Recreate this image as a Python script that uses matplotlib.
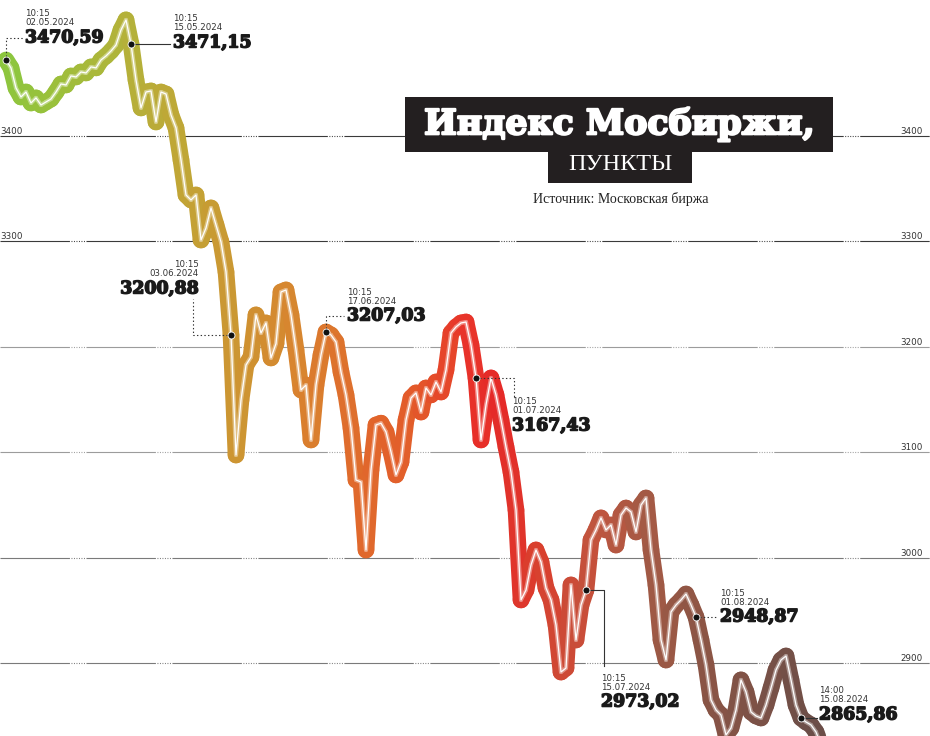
import numpy as np
import matplotlib
matplotlib.use("Agg")
import matplotlib.pyplot as plt
import matplotlib.patheffects as pe
from matplotlib.collections import LineCollection
from matplotlib.colors import LinearSegmentedColormap
from matplotlib.patches import Rectangle
from matplotlib.lines import Line2D

W, H = 930, 736

# MOEX index, one value per step
moex = [3472.1, 3464.5, 3445.5, 3437.0, 3441.7, 3431.3, 3436.1, 3429.4, 3432.3, 3435.1,
        3441.7, 3449.3, 3448.4, 3456.9, 3456.0, 3460.7, 3459.8, 3465.5, 3464.6, 3472.1,
        3475.9, 3480.6, 3486.3, 3500.6, 3510.1, 3487.3, 3453.1, 3426.6, 3441.7, 3442.7,
        3413.3, 3441.7, 3439.8, 3419.9, 3407.6, 3377.2, 3344.0, 3339.3, 3344.0, 3301.3,
        3312.7, 3331.7, 3315.6, 3299.4, 3271.0, 3211.2, 3097.3, 3149.5, 3182.7, 3190.3,
        3230.2, 3213.0, 3222.6, 3189.4, 3203.0, 3252.0, 3253.9, 3230.2, 3197.0, 3159.0,
        3163.7, 3111.6, 3163.7, 3192.2, 3214.0, 3211.2, 3204.5, 3176.1, 3154.3, 3122.9,
        3073.6, 3071.7, 3007.2, 3083.1, 3125.8, 3127.5, 3119.2, 3100.2, 3078.4, 3090.7,
        3130.5, 3151.4, 3156.2, 3138.1, 3160.9, 3154.3, 3166.6, 3157.1, 3178.0, 3213.1,
        3218.8, 3222.6, 3223.5, 3201.7, 3170.4, 3111.6, 3144.8, 3170.4, 3154.3, 3130.5,
        3104.9, 3081.2, 3045.1, 2959.8, 2969.2, 2993.0, 3007.2, 2995.8, 2971.1, 2959.8,
        2936.0, 2891.4, 2895.2, 2974.0, 2921.8, 2955.0, 2969.2, 3016.7, 3026.2, 3037.6,
        3026.2, 3030.9, 3011.9, 3040.4, 3047.0, 3043.3, 3024.3, 3049.9, 3056.5, 3007.2,
        2974.0, 2921.8, 2902.8, 2948.4, 2955.0, 2959.8, 2965.4, 2955.0, 2943.6, 2921.8,
        2898.1, 2864.9, 2855.4, 2850.6, 2831.7, 2838.3, 2855.4, 2883.9, 2872.5, 2853.5,
        2849.7, 2847.8, 2860.1, 2876.3, 2893.3, 2902.8, 2906.6, 2883.9, 2860.1, 2847.8,
        2844.0, 2841.2, 2834.5, 2822.2]

grid_levels = [3400, 3300, 3200, 3100, 3000, 2900]
left_labels = [3400, 3300]

ann_idx = [0, 25, 45, 64, 94, 116, 138, 159]
ann_time = ['10:15', '10:15', '10:15', '10:15', '10:15', '10:15', '10:15', '14:00']
ann_date = ['02.05.2024', '15.05.2024', '03.06.2024', '17.06.2024',
            '01.07.2024', '15.07.2024', '01.08.2024', '15.08.2024']
ann_value = ['3470,59', '3471,15', '3200,88', '3207,03',
             '3167,43', '2973,02', '2948,87', '2865,86']

# leader path (px from dot, y down), text anchor offset, alignment, line style
leaders = [[(0, 0), (0, -22), (17, -22)],
           [(0, 0), (39, 0)],
           [(0, 0), (-38, 0), (-38, -36)],
           [(0, 0), (0, -16), (18, -16)],
           [(0, 0), (38, 0), (38, 19)],
           [(0, 0), (18, 0), (18, 76)],
           [(0, 0), (21, 0)],
           [(0, 0), (16, 0)]]
text_off = [(19, -22), (42, -1), (-32, -46), (21, -16), (36, 48), (15, 112), (24, 0), (18, -3)]
text_ha = ['left', 'left', 'right', 'left', 'left', 'left', 'left', 'left']
leader_ls = [':', '-', ':', ':', ':', '-', ':', '-']

grad_pos = [0.0, 0.07, 0.146, 0.21, 0.28, 0.36, 0.434, 0.508, 0.57, 0.605, 0.655, 0.73, 0.79, 0.85, 1.0]
grad_col = ['#8cc63e', '#9dbf3b', '#b3b23a', '#bfa736', '#cc9632', '#d8842f', '#e06a2c',
            '#e35a2a', '#e8332a', '#e52a28', '#d9402e', '#c0553f', '#a35a45', '#8d5545', '#6b4e48']

plt.rcParams['lines.scale_dashes'] = False

fig = plt.figure(figsize=(W / 100, H / 100), dpi=100)
ax = fig.add_axes([0, 0, 1, 1])
ax.set_xlim(-1.2, 184.8)
ax.set_ylim(2830.7, 3529.0)
ax.axis('off')

# gridlines: long solid dash followed by a run of dots
grid_dash = [50] + [1.1, 0.7] * 6 + [1.1]
grid_colors = ['#3a3a3a', '#3a3a3a', '#9c9c9c', '#9c9c9c', '#7a7a7a', '#7a7a7a']
for lvl, c in zip(grid_levels, grid_colors):
    ax.axhline(lvl, color=c, lw=0.8, dashes=grid_dash, zorder=1)
    ax.text(0.992, lvl, str(lvl), transform=ax.get_yaxis_transform(), ha='right', va='bottom',
            fontsize=6.3, color='#333333', family='DejaVu Sans', zorder=1)
    if lvl in left_labels:
        ax.text(0.0, lvl, str(lvl), transform=ax.get_yaxis_transform(), ha='left', va='bottom',
                fontsize=6.3, color='#333333', family='DejaVu Sans', zorder=1)

# gradient line
x = np.arange(len(moex))
y = np.array(moex)
pts = np.column_stack([x, y])
segs = np.stack([pts[:-1], pts[1:]], axis=1)
cmap = LinearSegmentedColormap.from_list('moex', list(zip(grad_pos, grad_col)))
t = (x[:-1] + 0.5) / (len(moex) - 1)
cols = np.array([cmap(v) for v in t])
tint = cols.copy()
tint[:, :3] = cols[:, :3] * 0.6 + 0.4

ax.add_collection(LineCollection(segs, colors=cols, linewidths=12, capstyle='round',
                                 joinstyle='round', zorder=3))
ax.add_collection(LineCollection(segs, colors=tint, linewidths=3, capstyle='round',
                                 joinstyle='round', zorder=4))
ax.plot(x, y, color='white', lw=0.9, zorder=5, solid_joinstyle='round')


def to_fig(i, v):
    d = ax.transData.transform((i, v))
    return fig.transFigure.inverted().transform(d)


for k, i in enumerate(ann_idx):
    fx, fy = to_fig(i, moex[i])
    px = [fx + dx / W for dx, dy in leaders[k]]
    py = [fy - dy / H for dx, dy in leaders[k]]
    fig.add_artist(Line2D(px, py, color='#333333', lw=0.8, ls=leader_ls[k],
                          transform=fig.transFigure, zorder=6))
    fig.add_artist(Line2D([fx], [fy], marker='o', ms=5, color='#111111',
                          mec='white', mew=0.6, transform=fig.transFigure, zorder=7))
    tx = fx + text_off[k][0] / W
    ty = fy - text_off[k][1] / H
    fig.text(tx, ty, ann_value[k], ha=text_ha[k], va='center', fontsize=12.5,
             family='DejaVu Serif', weight='bold', color='#1a1a1a', zorder=8,
             path_effects=[pe.withStroke(linewidth=1.1, foreground='#1a1a1a')])
    fig.text(tx, ty + 15 / H, ann_date[k], ha=text_ha[k], va='center', fontsize=6.2,
             family='DejaVu Sans', color='#333333', zorder=8)
    fig.text(tx, ty + 24 / H, ann_time[k], ha=text_ha[k], va='center', fontsize=6.2,
             family='DejaVu Sans', color='#333333', zorder=8)

# title block
fig.add_artist(Rectangle((405 / W, 1 - 152 / H), 428 / W, 55 / H, transform=fig.transFigure,
                         facecolor='#231f20', edgecolor='none', zorder=9))
fig.add_artist(Rectangle((548 / W, 1 - 183 / H), 144 / W, 32 / H, transform=fig.transFigure,
                         facecolor='#231f20', edgecolor='none', zorder=9))
fig.text(619 / W, 1 - 124 / H, 'Индекс Мосбиржи,', ha='center', va='center', fontsize=25,
         family='DejaVu Serif', weight='bold', color='white', zorder=10,
         path_effects=[pe.withStroke(linewidth=1.6, foreground='white')])
fig.text(620 / W, 1 - 165 / H, 'ПУНКТЫ', ha='center', va='center', fontsize=17.5,
         family='Liberation Serif', color='white', zorder=10)
fig.text(621 / W, 1 - 199 / H, 'Источник: Московская биржа', ha='center', va='center',
         fontsize=10, family='Liberation Serif', color='#222222', zorder=10)

fig.savefig('out.png', dpi=100, facecolor='white')
